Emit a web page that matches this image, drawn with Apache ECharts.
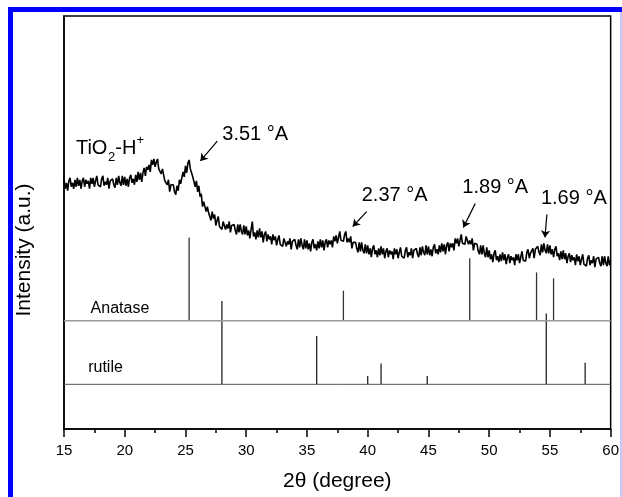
<!DOCTYPE html>
<html>
<head>
<meta charset="utf-8">
<script src="https://cdn.jsdelivr.net/npm/echarts@6/dist/echarts.min.js"></script>
<style>
  html, body { margin: 0; padding: 0; background: #fff; }
  #main { width: 622px; height: 497px; }
</style>
</head>
<body>
<div id="main"></div>
<script>
// 2theta sampling of the measured pattern (degree)
const THETA_START = 15;
const THETA_STEP = 0.1;

// TiO2-H+ pattern, intensity (a.u.), one row per degree
const tio2Counts = [
  251, 242, 248, 240, 250, 253, 244, 248, 242, 251,
  244, 253, 245, 251, 242, 250, 253, 244, 251, 247,
  250, 242, 253, 247, 253, 244, 250, 255, 246, 247,
  244, 252, 255, 245, 249, 246, 253, 242, 250, 252,
  252, 246, 243, 253, 246, 255, 248, 245, 255, 246,
  254, 245, 252, 244, 253, 256, 248, 252, 246, 256,
  249, 259, 251, 258, 249, 258, 263, 255, 264, 261,
  266, 259, 271, 266, 272, 264, 269, 272, 262, 261,
  257, 262, 262, 250, 252, 246, 251, 239, 246, 247,
  246, 239, 236, 245, 240, 251, 247, 246, 259, 254,
  265, 258, 268, 271, 262, 264, 254, 254, 244, 250,
  239, 245, 234, 237, 224, 229, 230, 219, 224, 218,
  219, 210, 219, 212, 216, 205, 210, 214, 204, 205,
  201, 209, 211, 201, 206, 202, 209, 198, 205, 207,
  206, 200, 196, 206, 198, 206, 199, 196, 205, 196,
  204, 195, 200, 192, 201, 209, 194, 198, 191, 200,
  193, 202, 193, 199, 188, 196, 199, 189, 196, 191,
  194, 186, 196, 190, 194, 185, 191, 195, 186, 187,
  184, 192, 194, 184, 189, 186, 192, 181, 189, 191,
  191, 185, 181, 191, 183, 192, 185, 181, 191, 182,
  190, 181, 187, 179, 188, 191, 182, 186, 180, 189,
  182, 191, 183, 190, 180, 188, 191, 183, 190, 186,
  190, 183, 194, 189, 195, 187, 193, 199, 190, 192,
  189, 196, 199, 188, 192, 188, 194, 182, 188, 189,
  188, 182, 178, 188, 179, 188, 180, 177, 186, 177,
  185, 176, 182, 173, 182, 185, 176, 180, 173, 182,
  175, 184, 176, 182, 172, 179, 182, 173, 180, 176,
  179, 171, 182, 176, 181, 172, 178, 183, 174, 175,
  172, 180, 183, 173, 178, 175, 182, 172, 180, 182,
  182, 176, 173, 183, 175, 184, 178, 175, 185, 176,
  184, 175, 181, 174, 183, 186, 177, 181, 176, 185,
  178, 187, 179, 186, 176, 185, 188, 179, 187, 183,
  187, 180, 192, 187, 192, 184, 190, 196, 187, 189,
  186, 194, 196, 186, 190, 186, 192, 180, 187, 188,
  186, 179, 176, 185, 176, 185, 177, 173, 183, 173,
  180, 171, 176, 168, 177, 180, 170, 174, 168, 176,
  169, 178, 170, 176, 166, 173, 176, 167, 174, 170,
  173, 165, 176, 170, 176, 167, 173, 179, 170, 171,
  169, 178, 181, 172, 177, 175, 182, 172, 181, 183,
  184, 178, 175, 186, 178, 187, 180, 177, 186, 177,
  185, 176, 181, 173, 181, 184, 174, 177, 170, 179,
  171, 180, 171, 177, 167, 174, 177, 168, 175, 170,
  173, 165, 176, 169, 174, 165, 171, 176, 166, 167,
  164, 172, 175, 165, 170, 167, 174, 163, 171, 173,
  173, 167, 164, 174, 165, 174, 167, 164, 174, 165,
  170
];

// reference stick patterns: peak position (2theta) and relative intensity (%)
const anatasePos = [25.3, 38.0, 48.4, 53.9, 55.3];
const anataseRel = [100, 36, 75, 58, 51];
const rutilePos = [28.0, 35.8, 40.0, 41.1, 44.9, 54.7, 57.9];
const rutileRel = [100, 58, 10, 25, 10, 85, 26];

// d-spacings marked on the pattern
const peakLabels = ['3.51 °A', '2.37 °A', '1.89 °A', '1.69 °A'];

// where the stick patterns sit on the intensity axis
const ANATASE_BASE = 109;
const RUTILE_BASE = 45;
const STICK_SCALE = 0.84;

// annotation anchors in data coords [2theta, intensity]
const labelAt = [[28.03, 307], [39.51, 245], [47.79, 253], [54.26, 242]];
const arrows = [
  [[27.62, 290], [26.23, 270]],
  [[39.92, 219], [38.77, 204]],
  [[48.85, 227], [47.87, 203]],
  [[54.75, 216], [54.59, 193]]
];

const FONT = 'Liberation Sans, Arial, Helvetica, sans-serif';

const curve = tio2Counts.map((v, i) => [+(THETA_START + i * THETA_STEP).toFixed(2), v]);
const anataseData = anatasePos.map((p, i) => [p, anataseRel[i]]);
const rutileData = rutilePos.map((p, i) => [p, rutileRel[i]]);

function stickRenderer(base, color) {
  return function (params, api) {
    const x = api.value(0);
    const p0 = api.coord([x, base]);
    const p1 = api.coord([x, base + api.value(1) * STICK_SCALE]);
    return {
      type: 'line',
      shape: { x1: p0[0], y1: p0[1], x2: p1[0], y2: p1[1] },
      style: { stroke: color, lineWidth: 1.3 }
    };
  };
}

const chart = echarts.init(document.getElementById('main'));

const option = {
  animation: false,
  backgroundColor: '#fff',
  grid: {
    left: 64, right: 9, top: 16, bottom: 65,
    show: true, borderColor: '#000', borderWidth: 1.5
  },
  xAxis: {
    type: 'value',
    min: 15, max: 60, interval: 5,
    name: '2θ (degree)',
    nameLocation: 'middle',
    nameGap: 42,
    nameTextStyle: { fontSize: 21, color: '#000', fontFamily: FONT },
    axisLine: { show: true, onZero: false, lineStyle: { color: '#000', width: 1.5 } },
    axisTick: { show: true, inside: false, length: 8, lineStyle: { color: '#000', width: 1.5 } },
    minorTick: { show: true, splitNumber: 2, length: 4, lineStyle: { color: '#000', width: 1.5 } },
    axisLabel: { fontSize: 15, color: '#000', margin: 14, fontFamily: FONT },
    splitLine: { show: false }
  },
  yAxis: {
    type: 'value',
    min: 0, max: 416,
    axisLine: { show: true, lineStyle: { color: '#000', width: 1.5 } },
    axisTick: { show: false },
    axisLabel: { show: false },
    splitLine: { show: false }
  },
  series: [
    {
      name: 'anatase base',
      type: 'line',
      data: [[15, ANATASE_BASE], [60, ANATASE_BASE]],
      showSymbol: false,
      silent: true,
      lineStyle: { color: '#999', width: 1.6 }
    },
    {
      name: 'rutile base',
      type: 'line',
      data: [[15, RUTILE_BASE], [60, RUTILE_BASE]],
      showSymbol: false,
      silent: true,
      lineStyle: { color: '#555', width: 1 }
    },
    {
      name: 'Anatase',
      type: 'custom',
      data: anataseData,
      renderItem: stickRenderer(ANATASE_BASE, '#333'),
      silent: true
    },
    {
      name: 'rutile',
      type: 'custom',
      data: rutileData,
      renderItem: stickRenderer(RUTILE_BASE, '#222'),
      silent: true
    },
    {
      name: 'TiO2-H+',
      type: 'line',
      data: curve,
      showSymbol: false,
      silent: true,
      lineStyle: { color: '#000', width: 1.6 },
      markLine: {
        silent: true,
        symbol: ['none', 'arrow'],
        symbolSize: 7,
        label: { show: false },
        lineStyle: { color: '#000', width: 1.2, type: 'solid' },
        data: arrows.map(a => [{ coord: a[0] }, { coord: a[1] }])
      }
    }
  ]
};

chart.setOption(option);

// text annotations placed through the grid's coordinate system
const px = p => chart.convertToPixel({ gridIndex: 0 }, p);
const txt = (p, text, size, extra) => Object.assign({
  type: 'text',
  x: p[0], y: p[1],
  silent: true,
  style: { text: text, fill: '#000', fontSize: size, fontFamily: FONT, verticalAlign: 'top', align: 'left' }
}, extra || {});

const graphics = [
  { type: 'rect', shape: { x: 8, y: 7, width: 614, height: 5 }, style: { fill: '#0000ff' }, silent: true },
  { type: 'rect', shape: { x: 8, y: 7, width: 5, height: 490 }, style: { fill: '#0000ff' }, silent: true },
  { type: 'rect', shape: { x: 620, y: 12, width: 2, height: 485 }, style: { fill: '#c8c8ff' }, silent: true }
];

peakLabels.forEach((t, i) => graphics.push(txt(px(labelAt[i]), t, 20)));

const tio = px([15.98, 293]);
graphics.push(txt(tio, 'TiO', 20));
graphics.push(txt([tio[0] + 32.2, tio[1] + 13], '2', 13));
graphics.push(txt([tio[0] + 39.4, tio[1]], '-H', 20));
graphics.push(txt([tio[0] + 60.5, tio[1] - 4], '+', 13));

graphics.push(txt(px([17.19, 129]), 'Anatase', 16));
graphics.push(txt(px([16.99, 70]), 'rutile', 16));

graphics.push({
  type: 'text',
  x: 24, y: 250,
  rotation: Math.PI / 2,
  silent: true,
  style: { text: 'Intensity (a.u.)', fill: '#000', fontSize: 21, fontFamily: FONT, align: 'center', verticalAlign: 'middle' }
});

chart.setOption({ graphic: graphics });
</script>
</body>
</html>
